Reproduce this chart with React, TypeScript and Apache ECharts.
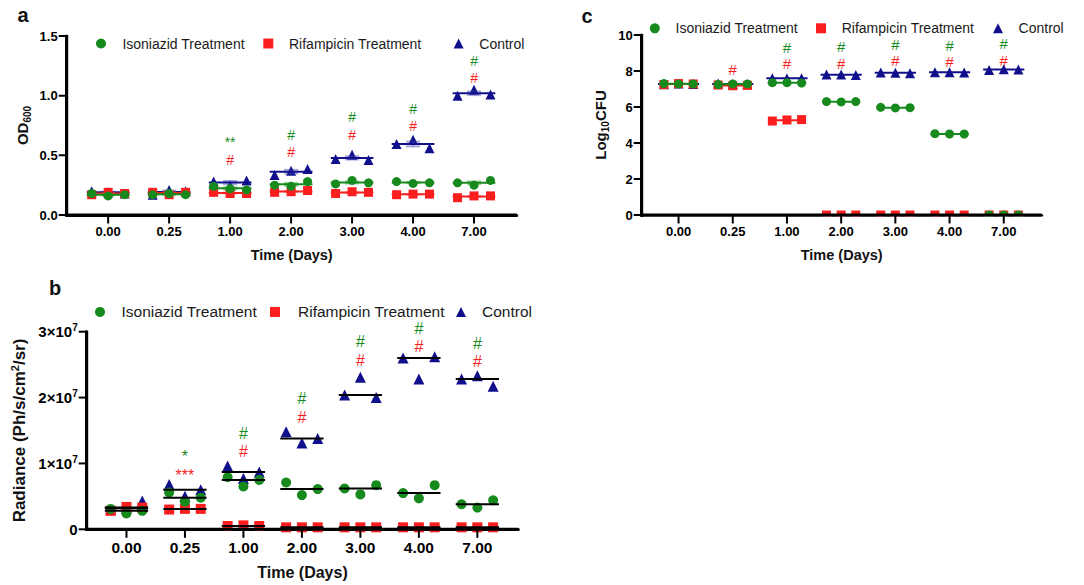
import React, { useEffect, useRef } from 'react';
import * as echarts from 'echarts';

// ---------- data ----------
const days = ['0.00', '0.25', '1.00', '2.00', '3.00', '4.00', '7.00'];
const legendNames = ['Isoniazid Treatment', 'Rifampicin Treatment', 'Control'];

// panel a: OD600 (three replicates per day)
const odIso = [[0.18, 0.16, 0.17], [0.17, 0.18, 0.17], [0.24, 0.22, 0.21], [0.25, 0.24, 0.28], [0.26, 0.29, 0.27], [0.28, 0.265, 0.27], [0.27, 0.25, 0.29]];
const odRif = [[0.17, 0.19, 0.18], [0.19, 0.17, 0.19], [0.19, 0.18, 0.18], [0.19, 0.195, 0.205], [0.18, 0.195, 0.19], [0.17, 0.175, 0.175], [0.145, 0.16, 0.16]];
const odCtrl = [[0.2, 0.19, 0.18], [0.17, 0.21, 0.2], [0.28, 0.245, 0.29], [0.335, 0.37, 0.385], [0.47, 0.505, 0.46], [0.595, 0.63, 0.56], [1.0, 1.05, 1.01]];
const odSigIso = ['', '', '**', '#', '#', '#', '#'];
const odSigIsoY = [0, 0, 0.64, 0.67, 0.82, 0.89, 1.29];
const odSigRif = ['', '', '#', '#', '#', '#', '#'];
const odSigRifY = [0, 0, 0.46, 0.53, 0.67, 0.75, 1.15];
const odYTicks = [0, 0.5, 1.0, 1.5];

// panel c: Log10 CFU
const cfuIso = [[7.3, 7.28, 7.28], [7.25, 7.28, 7.28], [7.35, 7.35, 7.33], [6.3, 6.28, 6.3], [5.98, 5.95, 5.96], [4.52, 4.5, 4.5], [0, 0, 0]];
const cfuRif = [[7.25, 7.3, 7.28], [7.22, 7.18, 7.2], [5.22, 5.28, 5.3], [0, 0, 0], [0, 0, 0], [0, 0, 0], [0, 0, 0]];
const cfuCtrl = [[7.27, 7.3, 7.28], [7.3, 7.28, 7.27], [7.6, 7.58, 7.6], [7.8, 7.8, 7.78], [7.92, 7.9, 7.88], [7.93, 7.93, 7.92], [8.06, 8.1, 8.08]];
const cfuSigIso = ['', '', '#', '#', '#', '#', '#'];
const cfuSigIsoY = [0, 0, 9.29, 9.35, 9.5, 9.44, 9.54];
const cfuSigRif = ['', '#', '#', '#', '#', '#', '#'];
const cfuSigRifY = [0, 8.09, 8.4, 8.43, 8.56, 8.52, 8.61];
const cfuYTicks = [0, 2, 4, 6, 8, 10];

// panel b: Radiance
const radIso = [[3.1e6, 2.4e6, 2.8e6], [5.6e6, 4.2e6, 4.8e6], [7.9e6, 6.5e6, 7.5e6], [7.1e6, 5.2e6, 6.1e6], [6.2e6, 5.3e6, 6.7e6], [5.5e6, 4.7e6, 6.7e6], [3.8e6, 3.3e6, 4.4e6]];
const radRif = [[2.8e6, 3.4e6, 3.3e6], [3.0e6, 3.1e6, 3.1e6], [0.5e6, 0.6e6, 0.5e6], [0.3e6, 0.3e6, 0.3e6], [0.3e6, 0.3e6, 0.3e6], [0.3e6, 0.3e6, 0.3e6], [0.3e6, 0.3e6, 0.3e6]];
const radCtrl = [[3.0e6, 3.2e6, 4.3e6], [6.8e6, 5.0e6, 6.0e6], [9.6e6, 7.7e6, 8.7e6], [14.8e6, 13.1e6, 13.8e6], [20.4e6, 23.1e6, 20.0e6], [26.0e6, 22.8e6, 26.2e6], [22.8e6, 23.3e6, 21.7e6]];
const radSigIso = ['', '*', '#', '#', '#', '#', '#'];
const radSigIsoY = [0, 1.16e7, 1.46e7, 1.98e7, 2.85e7, 3.05e7, 2.82e7];
const radSigRif = ['', '***', '#', '#', '#', '#', '#'];
const radSigRifY = [0, 0.88e7, 1.18e7, 1.7e7, 2.57e7, 2.78e7, 2.54e7];
const radYTicks = [0, 1e7, 2e7, 3e7];

// ---------- style ----------
const GREEN = '#168a1c';
const RED = '#fa1e1e';
const BLUE = '#10108c';
const FONT = '"Liberation Sans", Arial, Helvetica, sans-serif';
const OFFS = [-0.27, 0, 0.27];
const XS = 0.68; // left padding of the day axis (in day slots)
const XMAX = 7.38;

const mean = (a: number[]) => a.reduce((s, v) => s + v, 0) / a.length;
const sem = (a: number[]) => {
  const m = mean(a);
  const sd = Math.sqrt(a.reduce((s, v) => s + (v - m) * (v - m), 0) / (a.length - 1));
  return sd / Math.sqrt(a.length);
};
const median = (a: number[]) => {
  const s = [...a].sort((x, y) => x - y);
  const n = s.length;
  return n % 2 ? s[(n - 1) / 2] : (s[n / 2 - 1] + s[n / 2]) / 2;
};

function dots(name: string, groups: number[][], gi: number, symbol: string, color: string, size: number, z: number) {
  const data: number[][] = [];
  groups.forEach((vals, d) => vals.forEach((v, k) => data.push([d + XS + OFFS[k], v])));
  return { type: 'scatter', name, xAxisIndex: gi, yAxisIndex: gi, symbol, symbolSize: size, itemStyle: { color, opacity: 1 }, data, z, silent: true, clip: false };
}

function centre(groups: number[][], gi: number, stat: (a: number[]) => number, color: string, hw: number, lw: number, z: number, errColor?: string) {
  const data = groups.map((vals, d) => [d + XS, stat(vals), errColor ? sem(vals) : 0]);
  return {
    type: 'custom', name: 'c' + gi + color + z, xAxisIndex: gi, yAxisIndex: gi, silent: true, clip: false, z, data,
    renderItem: (_p: any, api: any) => {
      const x = api.value(0), m = api.value(1), e = api.value(2);
      const a = api.coord([x - hw, m]);
      const b = api.coord([x + hw, m]);
      const children: any[] = [];
      if (errColor && e > 0) {
        const t = api.coord([x, m + e]);
        const bt = api.coord([x, m - e]);
        const cw = 7;
        const st = { stroke: errColor, lineWidth: 2 };
        children.push({ type: 'line', shape: { x1: t[0], y1: t[1], x2: bt[0], y2: bt[1] }, style: st });
        children.push({ type: 'line', shape: { x1: t[0] - cw, y1: t[1], x2: t[0] + cw, y2: t[1] }, style: st });
        children.push({ type: 'line', shape: { x1: bt[0] - cw, y1: bt[1], x2: bt[0] + cw, y2: bt[1] }, style: st });
      }
      children.push({ type: 'line', shape: { x1: a[0], y1: a[1], x2: b[0], y2: b[1] }, style: { stroke: color, lineWidth: lw } });
      return { type: 'group', children };
    },
  };
}

function sig(texts: string[], ys: number[], color: string, gi: number, fs: number) {
  const data: number[][] = [];
  texts.forEach((t, d) => { if (t) data.push([d + XS, ys[d], d]); });
  return {
    type: 'custom', name: 's' + gi + color, xAxisIndex: gi, yAxisIndex: gi, silent: true, clip: false, z: 6, data,
    renderItem: (_p: any, api: any) => {
      const t = texts[Math.round(api.value(2))];
      const p = api.coord([api.value(0), api.value(1)]);
      const star = t.indexOf('*') >= 0;
      return {
        type: 'text', x: p[0], y: p[1] + (star ? fs * 0.25 : 0),
        style: { text: t, fill: color, fontSize: fs, fontFamily: FONT, align: 'center', verticalAlign: 'middle' },
      };
    },
  };
}

const dayTicks = days.map((_, i) => i + XS);

const icons = ['circle', 'rect', 'triangle'];
function legendRow(items: number[][], fs: number) {
  return items.map((it, i) => ({
    left: it[0] - 5, top: it[1] - fs / 2, padding: 0, itemWidth: 10, itemHeight: 10, itemGap: 0,
    selectedMode: false, data: [{ name: legendNames[i], icon: icons[i], itemStyle: { opacity: 1 } }],
    textStyle: { fontSize: fs, fontFamily: FONT, color: '#1a1a1a', padding: [0, 0, 0, it[2] - it[0] - 10] },
  }));
}

function xAxis(gi: number, fs: number, nameFs: number, nameGap: number) {
  return {
    type: 'value', gridIndex: gi, min: 0, max: XMAX,
    name: 'Time (Days)', nameLocation: 'middle', nameGap, nameMoveOverlap: false,
    nameTextStyle: { fontWeight: 'bold', fontSize: nameFs, fontFamily: FONT, color: '#111' },
    axisLine: { show: true, lineStyle: { color: '#000', width: 3 } },
    axisTick: { show: false },
    axisLabel: { show: true, customValues: dayTicks, formatter: (v: number) => days[Math.round(v - XS)], fontWeight: 'bold', fontSize: fs, fontFamily: FONT, color: '#000', margin: 10 },
    splitLine: { show: false },
  };
}
function yAxis(gi: number, ticks: number[], formatter: any, fs: number, name: string, nameGap: number, rich: any) {
  return {
    type: 'value', gridIndex: gi, min: ticks[0], max: ticks[ticks.length - 1], interval: ticks[1] - ticks[0],
    name, nameLocation: 'middle', nameGap, nameRotate: 90, nameMoveOverlap: false,
    nameTextStyle: { fontWeight: 'bold', fontFamily: FONT, color: '#111', rich },
    axisLine: { show: true, lineStyle: { color: '#000', width: 3 } },
    axisTick: { show: false },
    axisLabel: { show: true, formatter, fontWeight: 'bold', fontSize: fs, fontFamily: FONT, color: '#000', margin: 9, rich: {
      n: { fontWeight: 'bold', fontSize: fs, fontFamily: FONT, color: '#000', lineHeight: 18 },
      sup: { fontWeight: 'bold', fontSize: 10, fontFamily: FONT, color: '#000', verticalAlign: 'top', lineHeight: 10 },
    } },
    splitLine: { show: false },
  };
}

const panelTicks = [odYTicks, radYTicks, cfuYTicks];

function letters() {
  const st = { fontSize: 20, fontWeight: 'bold', fontFamily: FONT, fill: '#111', align: 'center', verticalAlign: 'middle' };
  return [
    { type: 'text', x: 23, y: 15, z: 60, style: { ...st, text: 'a' } },
    { type: 'text', x: 55, y: 288, z: 60, style: { ...st, text: 'b' } },
    { type: 'text', x: 587, y: 16, z: 60, style: { ...st, text: 'c' } },
  ];
}

// axis lines and tick marks as filled bars, placed through each grid's own scales
function axisFrames(chart: any) {
  const els: any[] = [];
  const ink = { fill: '#000' };
  panelTicks.forEach((yTicks, gi) => {
    const ymin = yTicks[0];
    const ymax = yTicks[yTicks.length - 1];
    const f = { gridIndex: gi };
    const o = chart.convertToPixel(f, [0, ymin]);
    const top = chart.convertToPixel(f, [0, ymax]);
    const right = chart.convertToPixel(f, [XMAX, ymin]);
    if (!o || !top || !right) return;
    if (gi === 2) {
      els.push({ type: 'rect', z: 49, silent: true, shape: { x: o[0] + 1.5, y: o[1] + 1.5, width: right[0] - o[0], height: 6 }, style: { fill: '#fff' } });
    }
    els.push({ type: 'rect', z: 50, silent: true, shape: { x: o[0] - 1.5, y: top[1] - 1, width: 3, height: o[1] - top[1] + 2.5 }, style: ink });
    els.push({ type: 'rect', z: 50, silent: true, shape: { x: o[0] - 1.5, y: o[1] - 1.5, width: right[0] - o[0] + 1.5, height: 3 }, style: ink });
    yTicks.forEach((v) => {
      const p = chart.convertToPixel(f, [0, v]);
      els.push({ type: 'rect', z: 50, silent: true, shape: { x: p[0] - 8, y: p[1] - 1, width: 8, height: 2 }, style: ink });
    });
    dayTicks.forEach((t) => {
      const p = chart.convertToPixel(f, [t, ymin]);
      els.push({ type: 'rect', z: 50, silent: true, shape: { x: p[0] - 1, y: p[1], width: 2, height: 8.5 }, style: ink });
    });
  });
  return els;
}

function buildOption() {
  const series: any[] = [];
  // panel a (grid 0)
  series.push(dots(legendNames[2], odCtrl, 0, 'triangle', BLUE, 10, 2));
  series.push(centre(odCtrl, 0, mean, BLUE, 0.35, 2, 3, 'rgba(60,60,170,0.45)'));
  series.push(dots(legendNames[1], odRif, 0, 'rect', RED, 9, 4));
  series.push(centre(odRif, 0, mean, RED, 0.35, 2, 4, 'rgba(255,90,90,0.5)'));
  series.push(dots(legendNames[0], odIso, 0, 'circle', GREEN, 9, 5));
  series.push(centre(odIso, 0, mean, GREEN, 0.35, 2, 5, 'rgba(60,160,60,0.5)'));
  series.push(sig(odSigIso, odSigIsoY, GREEN, 0, 14));
  series.push(sig(odSigRif, odSigRifY, RED, 0, 14));
  // panel b (grid 1)
  series.push(dots(legendNames[2], radCtrl, 1, 'triangle', BLUE, 11, 2));
  series.push(dots(legendNames[1], radRif, 1, 'rect', RED, 10, 3));
  series.push(dots(legendNames[0], radIso, 1, 'circle', GREEN, 10, 4));
  series.push(centre(radCtrl, 1, median, '#000', 0.37, 2, 5));
  series.push(centre(radRif, 1, median, '#000', 0.37, 2, 5));
  series.push(centre(radIso, 1, median, '#000', 0.37, 2, 5));
  series.push(sig(radSigIso, radSigIsoY, GREEN, 1, 16));
  series.push(sig(radSigRif, radSigRifY, RED, 1, 16));
  // panel c (grid 2)
  series.push(dots(legendNames[2], cfuCtrl, 2, 'triangle', BLUE, 10, 2));
  series.push(centre(cfuCtrl, 2, mean, BLUE, 0.38, 2, 3));
  series.push(dots(legendNames[1], cfuRif, 2, 'rect', RED, 9, 4));
  series.push(centre(cfuRif, 2, mean, RED, 0.35, 2, 4));
  series.push(dots(legendNames[0], cfuIso, 2, 'circle', GREEN, 9, 5));
  series.push(centre(cfuIso, 2, mean, GREEN, 0.35, 2, 5));
  series.push(sig(cfuSigIso, cfuSigIsoY, GREEN, 2, 15));
  series.push(sig(cfuSigRif, cfuSigRifY, RED, 2, 15));

  const subRich = (fs: number) => ({
    b: { fontWeight: 'bold', fontSize: fs, fontFamily: FONT, color: '#111', lineHeight: 20 },
    sub: { fontWeight: 'bold', fontSize: 10, fontFamily: FONT, color: '#111', verticalAlign: 'bottom', lineHeight: 10 },
    sup: { fontWeight: 'bold', fontSize: 11, fontFamily: FONT, color: '#111', verticalAlign: 'top', lineHeight: 11 },
  });

  return {
    animation: false,
    textStyle: { fontFamily: FONT },
    grid: [
      { left: 66.7, top: 36, width: 450, height: 179 },
      { left: 86.7, top: 331.7, width: 431.6, height: 197.6 },
      { left: 641.7, top: 35, width: 400, height: 180 },
    ],
    xAxis: [xAxis(0, 13, 14.5, 32), xAxis(1, 15.5, 16, 35), xAxis(2, 13, 14.5, 32)],
    yAxis: [
      yAxis(0, odYTicks, (v: number) => '{n|' + v.toFixed(1) + '}', 13, '{b|OD}{sub|600}', 34, subRich(15)),
      yAxis(1, radYTicks, (v: number) => (v === 0 ? '{n|0}' : '{n|' + Math.round(v / 1e7) + '×10}{sup|7}'), 15, '{b|Radiance (Ph/s/cm}{sup|2}{b|/sr)}', 57, subRich(17)),
      yAxis(2, cfuYTicks, (v: number) => '{n|' + v + '}', 13, '{b|Log}{sub|10}{b|CFU}', 31, subRich(15)),
    ],
    legend: [
      ...legendRow([[101, 43.5, 122.4], [268.3, 43.5, 289], [458.6, 43.5, 479.3]], 14),
      ...legendRow([[100, 311.7, 121.5], [275, 311.7, 298], [461, 311.7, 482]], 15.5),
      ...legendRow([[654.8, 28.3, 675.5], [821, 28.3, 841.7], [998, 28.3, 1018.6]], 14),
    ],
    series,
  };
}

export default function App() {
  const ref = useRef<HTMLDivElement>(null);
  useEffect(() => {
    if (!ref.current) return;
    const chart = echarts.init(ref.current, null, { renderer: 'svg' });
    chart.setOption(buildOption() as any);
    chart.setOption({ graphic: [...letters(), ...axisFrames(chart)] } as any);
    return () => chart.dispose();
  }, []);
  return <div ref={ref} style={{ position: 'fixed', left: 0, top: 0, width: 1084, height: 585, background: '#fff' }} />;
}
